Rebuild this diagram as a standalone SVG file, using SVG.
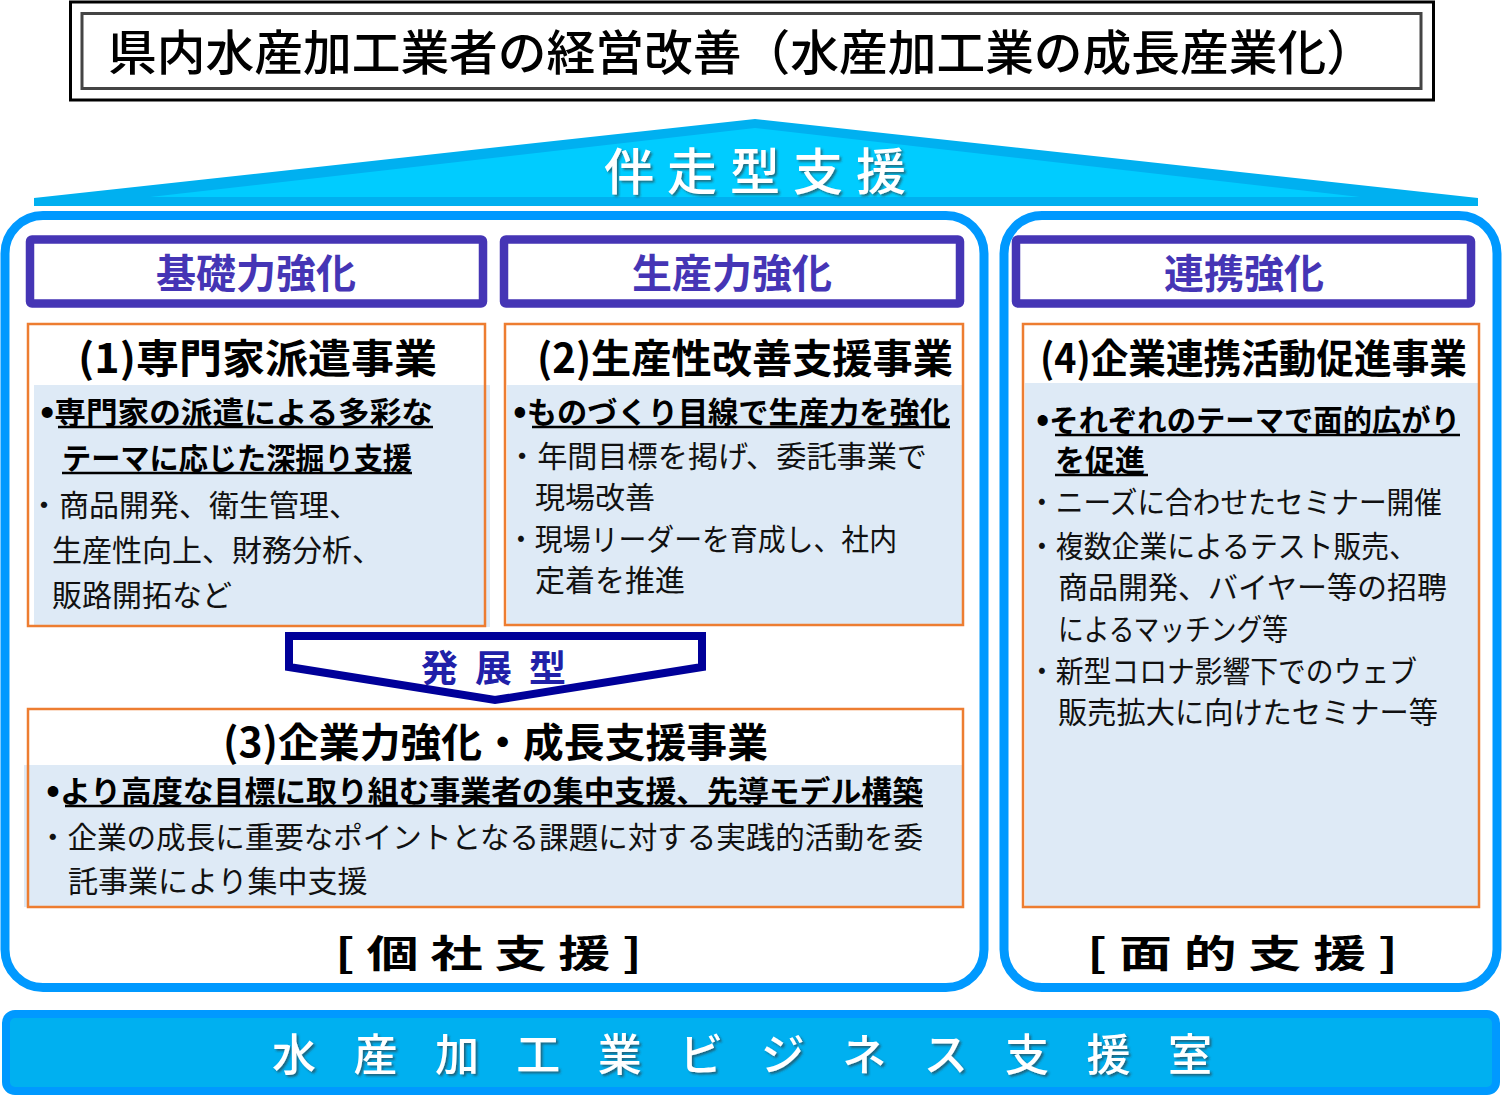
<svg xmlns="http://www.w3.org/2000/svg" width="1502" height="1120" viewBox="0 0 1502 1120">
<defs>
<filter id="sh" x="-5%" y="-20%" width="110%" height="150%">
<feDropShadow dx="2" dy="2" stdDeviation="1" flood-color="#333" flood-opacity="0.6"/>
</filter>
</defs>
<style>
text{font-family:"Noto Sans CJK JP","Noto Sans",sans-serif;}
.hd{font-size:40px;font-weight:700;fill:#4535B5;text-anchor:middle;}
.hbox{fill:#fff;stroke:#4535B5;stroke-width:8.5;}
.ob{fill:none;stroke:#ED7D31;stroke-width:2.5;}
.lb{fill:#DEEAF6;}
.tt{font-size:40px;font-weight:700;fill:#000;}
.bb{font-size:30px;font-weight:700;fill:#000;}
.bu{font-size:36px;}
.rg{font-size:30px;font-weight:400;fill:#111;}
.ul{stroke:#000;stroke-width:2.5;}
.big{fill:#fff;stroke:#0099FF;stroke-width:9;}
.wt{fill:#fff;font-weight:500;filter:url(#sh);}
.lab{font-size:38px;font-weight:700;fill:#000;}
</style>

<g id="title">
<rect x="70.5" y="2" width="1363" height="98" fill="#fff" stroke="#000" stroke-width="3"/>
<rect x="82" y="13.5" width="1339" height="75" fill="none" stroke="#444" stroke-width="3"/>
<text x="108" y="70" font-size="48" font-weight="500" textLength="1267" lengthAdjust="spacingAndGlyphs">県内水産加工業者の経営改善（水産加工業の成長産業化）</text>
</g>

<g id="roof">
<polygon points="34,198 755,119 1478,198 1478,206 34,206" fill="#00B0F0"/>
<polygon points="150,197 755,128 1360,197" fill="#00CCFF"/>
<text class="wt" x="604" y="190" font-size="50" textLength="302" lengthAdjust="spacing">伴 走 型 支 援</text>
</g>

<g id="individual-support">
<rect class="big" x="5" y="215.5" width="979" height="772" rx="38"/>
<text class="lab" x="335" y="967" textLength="307" lengthAdjust="spacingAndGlyphs">[ 個 社 支 援 ]</text>
</g>

<g id="area-support">
<rect class="big" x="1004" y="215.5" width="493" height="772" rx="38"/>
<text class="lab" x="1087" y="967" textLength="311" lengthAdjust="spacingAndGlyphs">[ 面 的 支 援 ]</text>
</g>

<g id="head-kiso">
<rect class="hbox" x="30" y="239.5" width="453" height="64" rx="2"/>
<text class="hd" x="256" y="288">基礎力強化</text>
</g>
<g id="head-seisan">
<rect class="hbox" x="504" y="239.5" width="456" height="64" rx="2"/>
<text class="hd" x="732" y="288">生産力強化</text>
</g>
<g id="head-renkei">
<rect class="hbox" x="1016" y="239.5" width="455" height="64" rx="2"/>
<text class="hd" x="1244" y="288">連携強化</text>
</g>

<g id="box1">
<rect x="28" y="324" width="457" height="302" fill="#fff"/>
<rect class="lb" x="34" y="385" width="456" height="242"/>
<rect class="ob" x="28" y="324" width="457" height="302"/>
<text class="tt" x="78" y="373" textLength="359" lengthAdjust="spacingAndGlyphs">(1)専門家派遣事業</text>
<text class="bb" x="40" y="423" textLength="393" lengthAdjust="spacingAndGlyphs"><tspan class="bu">•</tspan>専門家の派遣による多彩な</text>
<line class="ul" x1="58" y1="427" x2="433" y2="427"/>
<text class="bb" x="62" y="469" textLength="350" lengthAdjust="spacingAndGlyphs">テーマに応じた深掘り支援</text>
<line class="ul" x1="62" y1="473" x2="412" y2="473"/>
<text class="rg" x="29" y="516">・商品開発、衛生管理、</text>
<text class="rg" x="52" y="561">生産性向上、財務分析、</text>
<text class="rg" x="52" y="606">販路開拓など</text>
</g>

<g id="box2">
<rect x="505" y="324" width="458" height="301" fill="#fff"/>
<rect class="lb" x="507" y="385" width="456" height="240"/>
<rect class="ob" x="505" y="324" width="458" height="301"/>
<text class="tt" x="537" y="373" textLength="416" lengthAdjust="spacingAndGlyphs">(2)生産性改善支援事業</text>
<text class="bb" x="513" y="423" textLength="437" lengthAdjust="spacingAndGlyphs"><tspan class="bu">•</tspan>ものづくり目線で生産力を強化</text>
<line class="ul" x1="532" y1="427" x2="950" y2="427"/>
<text class="rg" x="507" y="467" textLength="420" lengthAdjust="spacingAndGlyphs">・年間目標を掲げ、委託事業で</text>
<text class="rg" x="535" y="508">現場改善</text>
<text class="rg" x="507" y="550" textLength="390" lengthAdjust="spacingAndGlyphs">・現場リーダーを育成し、社内</text>
<text class="rg" x="535" y="591">定着を推進</text>
</g>

<g id="box4">
<rect x="1023" y="324" width="456" height="583" fill="#fff"/>
<rect class="lb" x="1025" y="383" width="453" height="524"/>
<rect class="ob" x="1023" y="324" width="456" height="583"/>
<text class="tt" x="1040" y="373" textLength="427" lengthAdjust="spacingAndGlyphs">(4)企業連携活動促進事業</text>
<text class="bb" x="1036" y="431" textLength="424" lengthAdjust="spacingAndGlyphs"><tspan class="bu">•</tspan>それぞれのテーマで面的広がり</text>
<line class="ul" x1="1055" y1="435" x2="1460" y2="435"/>
<text class="bb" x="1055" y="471">を促進</text>
<line class="ul" x1="1055" y1="475" x2="1148" y2="475"/>
<text class="rg" x="1028" y="513" textLength="414" lengthAdjust="spacingAndGlyphs">・ニーズに合わせたセミナー開催</text>
<text class="rg" x="1028" y="557" textLength="389" lengthAdjust="spacingAndGlyphs">・複数企業によるテスト販売、</text>
<text class="rg" x="1058" y="598" textLength="389" lengthAdjust="spacingAndGlyphs">商品開発、バイヤー等の招聘</text>
<text class="rg" x="1058" y="640" textLength="230" lengthAdjust="spacingAndGlyphs">によるマッチング等</text>
<text class="rg" x="1028" y="682" textLength="389" lengthAdjust="spacingAndGlyphs">・新型コロナ影響下でのウェブ</text>
<text class="rg" x="1058" y="723" textLength="380" lengthAdjust="spacingAndGlyphs">販売拡大に向けたセミナー等</text>
</g>

<g id="connectors">
<g id="arrow-hatten">
<polygon points="289,636 702,636 702,667 495,700 289,667" fill="#fff" stroke="#000099" stroke-width="8" stroke-linejoin="miter"/>
<text x="421" y="682" font-size="37" font-weight="700" fill="#2020A8" textLength="145" lengthAdjust="spacing">発 展 型</text>
</g>
</g>

<g id="box3">
<rect x="28" y="709" width="935" height="198" fill="#fff"/>
<rect class="lb" x="24" y="765" width="939" height="142"/>
<rect class="ob" x="28" y="709" width="935" height="198"/>
<text class="tt" x="223" y="757" textLength="545" lengthAdjust="spacingAndGlyphs">(3)企業力強化・成長支援事業</text>
<text class="bb" x="46" y="802" textLength="877" lengthAdjust="spacingAndGlyphs"><tspan class="bu">•</tspan>より高度な目標に取り組む事業者の集中支援、先導モデル構築</text>
<line class="ul" x1="65" y1="806" x2="923" y2="806"/>
<text class="rg" x="38" y="848" textLength="885" lengthAdjust="spacingAndGlyphs">・企業の成長に重要なポイントとなる課題に対する実践的活動を委</text>
<text class="rg" x="68" y="892">託事業により集中支援</text>
</g>

<g id="office">
<rect x="6" y="1014" width="1490" height="77" rx="9" fill="#00B0F0" stroke="#0099FF" stroke-width="8"/>
<text class="wt" x="272" y="1071" font-size="44" textLength="940" lengthAdjust="spacing">水 産 加 工 業 ビ ジ ネ ス 支 援 室</text>
</g>
</svg>
